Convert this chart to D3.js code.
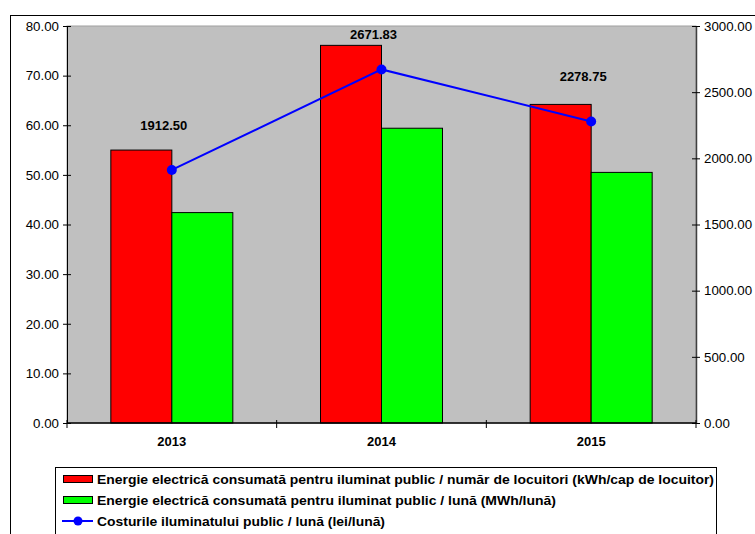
<!DOCTYPE html>
<html>
<head>
<meta charset="utf-8">
<script src="https://cdn.jsdelivr.net/npm/d3@7"></script>
<style>
  body { margin: 0; background: #fff; }
  svg { display: block; font-family: 'Liberation Sans', Arial, sans-serif; }
</style>
</head>
<body>
<svg id="chart" width="755" height="534"></svg>
<script>
const years = ['2013', '2014', '2015']
const energyPerCapita = [55.0, 76.1, 64.2]   // kWh/cap de locuitor
const energyPerMonth = [42.4, 59.4, 50.5]    // MWh/luna
const costPerMonth = [1912.50, 2671.83, 2278.75] // lei/luna
const leftTicks = [0, 10, 20, 30, 40, 50, 60, 70, 80]
const rightTicks = [0, 500, 1000, 1500, 2000, 2500, 3000]
const legendLabels = [
  'Energie electrică consumată pentru iluminat public / număr de locuitori (kWh/cap de locuitor)',
  'Energie electrică consumată pentru iluminat public / lună (MWh/lună)',
  'Costurile iluminatului public / lună (lei/lună)'
]
const legendWidths = [617, 459, 288]

const svg = d3.select('#chart')
const plot = { left: 67, top: 26, right: 696, bottom: 423 }

// outer frame
svg.append('rect')
  .attr('x', 10.5).attr('y', 15.5)
  .attr('width', 800).attr('height', 600)
  .attr('fill', 'none').attr('stroke', '#000').attr('stroke-width', 1)

const x = d3.scaleBand().domain(years).range([plot.left, plot.right])
const yL = d3.scaleLinear().domain([0, 80]).range([plot.bottom, plot.top])
const yR = d3.scaleLinear().domain([0, 3000]).range([plot.bottom, plot.top])

svg.append('rect')
  .attr('x', plot.left).attr('y', plot.top)
  .attr('width', plot.right - plot.left).attr('height', plot.bottom - plot.top)
  .attr('fill', '#c0c0c0').attr('stroke', '#a0a0a0')

const barW = 61
const bars = svg.append('g')
years.forEach((yr, i) => {
  const c = x(yr) + x.bandwidth() / 2
  bars.append('rect')
    .attr('x', c - barW).attr('y', yL(energyPerCapita[i]))
    .attr('width', barW).attr('height', yL(0) - yL(energyPerCapita[i]))
    .attr('fill', '#ff0000').attr('stroke', '#000').attr('stroke-width', 1)
  bars.append('rect')
    .attr('x', c).attr('y', yL(energyPerMonth[i]))
    .attr('width', barW).attr('height', yL(0) - yL(energyPerMonth[i]))
    .attr('fill', '#00ff00').attr('stroke', '#000').attr('stroke-width', 1)
})

// axes
const leftAxis = svg.append('g')
  .attr('transform', `translate(${plot.left},0)`)
  .call(d3.axisLeft(yL).tickValues(leftTicks).tickFormat(d3.format('.2f')).tickSize(4).tickSizeOuter(0).tickPadding(4))
leftAxis.selectAll('.tick line').attr('x2', 4).attr('x1', -4)

const rightAxis = svg.append('g')
  .attr('transform', `translate(${plot.right},0)`)
  .call(d3.axisRight(yR).tickValues(rightTicks).tickFormat(d3.format('.2f')).tickSize(4).tickSizeOuter(0).tickPadding(4))
rightAxis.selectAll('.tick line').attr('x1', -4).attr('x2', 4)
rightAxis.select('.domain').attr('stroke', '#404040').attr('stroke-width', 1.5)

;[leftAxis, rightAxis].forEach(a => {
  a.selectAll('text').attr('font-size', 13.3).attr('fill', '#000')
  a.selectAll('line').attr('stroke', '#000')
})

const bottomAxis = svg.append('g')
  .attr('transform', `translate(0,${plot.bottom})`)
bottomAxis.append('line')
  .attr('x1', plot.left).attr('x2', plot.right)
  .attr('stroke', '#000').attr('stroke-width', 1.5)
bottomAxis.selectAll('line.tk')
  .data(d3.range(years.length + 1))
  .join('line').attr('class', 'tk')
  .attr('x1', i => plot.left + i * x.step()).attr('x2', i => plot.left + i * x.step())
  .attr('y1', -3).attr('y2', 5).attr('stroke', '#000')
bottomAxis.selectAll('text')
  .data(years)
  .join('text')
  .attr('x', d => x(d) + x.bandwidth() / 2)
  .attr('y', 23)
  .attr('text-anchor', 'middle')
  .attr('font-size', 13).attr('font-weight', 'bold')
  .text(d => d)

// cost line
const line = d3.line()
  .x((d, i) => x(years[i]) + x.bandwidth() / 2)
  .y(d => yR(d))
svg.append('path')
  .datum(costPerMonth)
  .attr('d', line)
  .attr('fill', 'none').attr('stroke', '#0000ff').attr('stroke-width', 2)
svg.selectAll('circle.pt')
  .data(costPerMonth)
  .join('circle').attr('class', 'pt')
  .attr('cx', (d, i) => x(years[i]) + x.bandwidth() / 2)
  .attr('cy', d => yR(d))
  .attr('r', 5).attr('fill', '#0000ff')

svg.selectAll('text.lbl')
  .data(costPerMonth)
  .join('text').attr('class', 'lbl')
  .attr('x', (d, i) => x(years[i]) + x.bandwidth() / 2 - 8)
  .attr('y', d => Math.max(yR(d) - 40, plot.top + 13))
  .attr('text-anchor', 'middle')
  .attr('font-size', 13).attr('font-weight', 'bold')
  .text(d => d3.format('.2f')(d))

// legend
const legend = svg.append('g')
legend.append('rect')
  .attr('x', 55.5).attr('y', 467.5)
  .attr('width', 661).attr('height', 80)
  .attr('fill', '#fff').attr('stroke', '#000')
const rowY = [479, 500, 521]
legendLabels.forEach((lab, i) => {
  const g = legend.append('g').attr('transform', `translate(0,${rowY[i]})`)
  if (i < 2) {
    g.append('rect')
      .attr('x', 63.5).attr('y', -3.5).attr('width', 29).attr('height', 7)
      .attr('fill', i === 0 ? '#ff0000' : '#00ff00').attr('stroke', '#000')
  } else {
    g.append('line').attr('x1', 62).attr('x2', 93).attr('stroke', '#0000ff').attr('stroke-width', 2)
    g.append('circle').attr('cx', 78).attr('r', 4.5).attr('fill', '#0000ff')
  }
  g.append('text')
    .attr('x', 97).attr('y', 5)
    .attr('font-size', 13.5).attr('font-weight', 'bold')
    .attr('textLength', legendWidths[i]).attr('lengthAdjust', 'spacingAndGlyphs')
    .text(lab)
})
</script>
</body>
</html>
